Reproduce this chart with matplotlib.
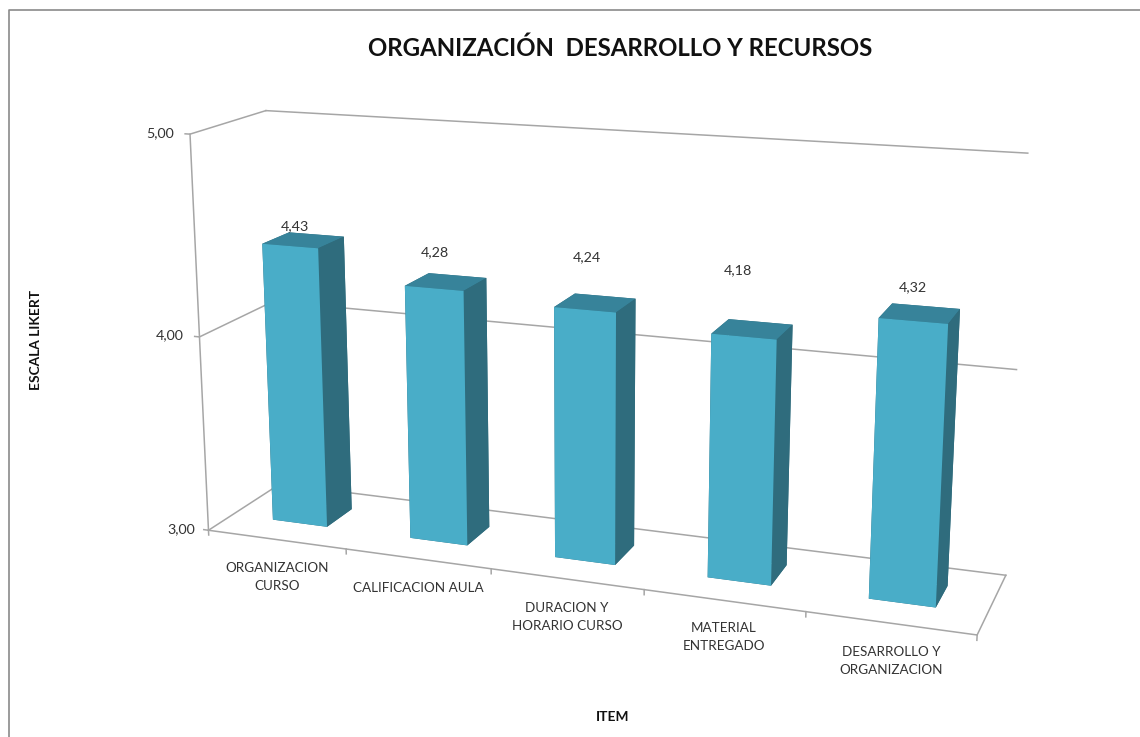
import numpy as np
import matplotlib
matplotlib.use("Agg")
import matplotlib.pyplot as plt
from matplotlib.lines import Line2D

categories = ["ORGANIZACION\nCURSO", "CALIFICACION AULA", "DURACION Y\nHORARIO CURSO",
              "MATERIAL\nENTREGADO", "DESARROLLO Y\nORGANIZACION"]
values = [4.43, 4.28, 4.24, 4.18, 4.32]
y_ticks = [3.0, 4.0, 5.0]
title = "ORGANIZACIÓN  DESARROLLO Y RECURSOS"
x_title = "ITEM"
y_title = "ESCALA LIKERT"

W, H = 1140, 737
plt.rcParams['font.family'] = ['Lato', 'DejaVu Sans']
fig = plt.figure(figsize=(W / 100, H / 100), dpi=100, facecolor='white')
ax = fig.add_axes([0, 0, 1, 1], projection='3d')
ax.set_axis_off()
ax.computed_zorder = False
ax.apply_aspect = lambda position=None: None

# camera calibration: (category axis, depth, value) -> pixel
calib = [
    (0, 0, 3, 210, 529), (1, 0, 3, 346.7, 548.3), (2, 0, 3, 491.7, 570),
    (3, 0, 3, 644, 589), (4, 0, 3, 806.4, 613), (5, 0, 3, 978.3, 635.7),
    (5, 1, 3, 1006, 573.3), (0, 1, 3, 274, 487), (0, 0, 5, 188.3, 132.3),
    (0, 1, 5, 268.3, 110.7), (5, 1, 5, 1028.3, 153.3), (0, 0, 4, 200, 335),
    (5, 1, 4, 1016.7, 369),
    (.3, .33, 4.43, 261.7, 245), (.7, .33, 4.43, 317.3, 249.3), (.7, .7, 4.43, 345.7, 237.3),
    (.3, .33, 3, 273.3, 520), (.7, .33, 3, 327.3, 526.7), (.7, .7, 3, 355, 506),
    (1.3, .33, 4.28, 404, 286), (1.7, .33, 4.28, 462.7, 290.7), (1.7, .7, 4.28, 487.7, 277.3),
    (2.3, .33, 4.24, 553.3, 308.3), (2.7, .33, 4.24, 614.7, 313.3), (2.7, .7, 4.24, 636.7, 299),
    (3.3, .33, 4.18, 710.7, 335), (3.7, .33, 4.18, 775.7, 340.7), (3.7, .7, 4.18, 792.7, 325),
    (4.3, .33, 4.32, 878.3, 317.7), (4.7, .33, 4.32, 947.7, 322.7), (4.7, .7, 4.32, 960, 307.7),
    (4.3, .33, 3, 868.3, 599.3), (4.7, .33, 3, 935, 608.3), (4.7, .7, 3, 947.7, 585),
]
A = []
for X, Y, Z, u, v in calib:
    A.append([X, Y, Z, 1, 0, 0, 0, 0, -u * X, -u * Y, -u * Z, -u])
    A.append([0, 0, 0, 0, X, Y, Z, 1, -v * X, -v * Y, -v * Z, -v])
P = np.linalg.svd(np.array(A, float))[2][-1].reshape(3, 4)
P = P / (P[2] @ np.array([2.5, 0.5, 4, 1]))


def get_proj():
    x0, x1 = ax.viewLim.intervalx
    y0, y1 = ax.viewLim.intervaly
    sx = (x1 - x0) / W
    sy = (y1 - y0) / H
    return np.array([
        sx * P[0] + x0 * P[2],
        -sy * P[1] + y1 * P[2],
        np.array([-0.1, 0.2, -0.02, 0]) - 1.0 * P[2],
        P[2],
    ])


ax.get_proj = get_proj

# axis lines
grid = '#A6A6A6'
for z in y_ticks:
    ax.plot([-0.035, 0, 0], [0, 0, 1], [z, z, z], color=grid, lw=1.1, zorder=1)
    ax.plot([0, 5], [1, 1], [z, z], color=grid, lw=1.1, zorder=1)
ax.plot([0, 0], [0, 0], [3, 5], color=grid, lw=1.1, zorder=1)
ax.plot([0, 5, 5], [0, 0, 1], [3, 3, 3], color=grid, lw=1.1, zorder=1)
for i in range(6):
    ax.plot([i, i], [0, 0], [3, 2.975], color=grid, lw=1.1, zorder=1)

# bars
front, side, top = '#49ADC8', '#2F6C7D', '#37839A'
for i, v in enumerate(values):
    # faces order in bar3d: bottom, top, -y, +y, -x, +x
    ax.bar3d(i + 0.3, 0.33, 3, 0.4, 0.37, v - 3,
             color=[side, top, front, side, side, side], shade=False, zorder=3)


def px(x, y, s, **kw):
    return fig.text(x / W, 1 - y / H, s, **kw)


ink = '#333333'
for z, xr, yy in zip(y_ticks, [195, 184, 174], [529, 335, 133]):
    px(xr, yy, f"{z:.2f}".replace('.', ','), ha='right', va='center', fontsize=10.3, color=ink)

cat_pos = [(277, 577), (418, 588), (567, 617), (724, 637), (891, 661)]
for (cx, cy), c in zip(cat_pos, categories):
    px(cx, cy, c, ha='center', va='center', fontsize=9.7, color=ink, linespacing=1.55)

lab_pos = [(295, 226), (435, 252), (587, 257), (738, 270), (913, 287)]
for (lx, ly), v in zip(lab_pos, values):
    px(lx, ly, f"{v:.2f}".replace('.', ','), ha='center', va='center', fontsize=10.3, color=ink)

px(620, 48, title, ha='center', va='center', fontsize=17.3, fontweight='bold', color='#111111')
px(613, 717, x_title, ha='center', va='center', fontsize=9.9, fontweight='bold', color='#111111')
px(36, 340, y_title, ha='center', va='center', rotation=90, fontsize=9.9, fontweight='bold', color='#111111')

fig.add_artist(Line2D([8.5 / W, 8.5 / W, 1], [0, 1 - 10 / H, 1 - 10 / H], color='#8A8A8A', lw=1.2,
                      transform=fig.transFigure))

fig.savefig('out.png', dpi=100)
